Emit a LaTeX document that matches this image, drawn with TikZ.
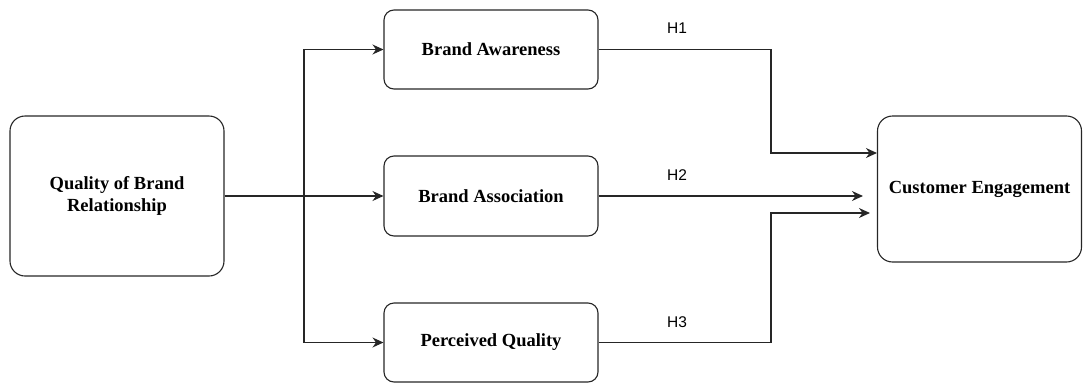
\documentclass[tikz,border=0pt]{standalone}
\usepackage{fontspec}
\setmainfont{Liberation Serif}
\newfontfamily\hfont{Liberation Sans}
\usetikzlibrary{arrows.meta}

\begin{document}
\begin{tikzpicture}[x=1pt,y=-1pt,
  box/.style={draw=black!85,line width=1.1pt,rounded corners=10pt,align=center,
    font=\fontsize{18.5}{22}\selectfont\bfseries,inner sep=0pt},
  arr/.style={draw=black!85,line width=1.1pt,-{Stealth[length=11pt,width=10pt]}},
  hyp/.style={font=\hfont\fontsize{15.5}{18}\selectfont}]
\useasboundingbox (0,0) rectangle (1083,383);

\node[box,minimum width=214pt,minimum height=160pt,rounded corners=15pt] (qbr) at (117,196) {Quality of Brand\\Relationship};

\node[box,minimum width=214pt,minimum height=79pt] (aware) at (491,49.5) {Brand Awareness};
\node[box,minimum width=214pt,minimum height=80pt] (assoc) at (491,196) {Brand Association};
\node[box,minimum width=214pt,minimum height=79pt] (perc) at (491,342.5) {Perceived Quality};

\node[box,minimum width=204pt,minimum height=146pt,rounded corners=15pt] (eng) at (979.5,189) {Customer Engagement};

\node[hyp] (h1) at (677,28) {H1};
\node[hyp] (h2) at (677,175) {H2};
\node[hyp] (h3) at (677,322) {H3};

\coordinate (split) at (304,196);
\coordinate (join1) at (771,153);
\coordinate (join3) at (771,213);

\draw[arr] (qbr.east) -- (assoc.west);
\draw[arr] (split) |- (aware.west);
\draw[arr] (split) |- (perc.west);

\draw[arr] (aware.east) -| (join1) -- (eng.west |- join1);
\draw[arr] (assoc.east) -- ([xshift=-14pt]eng.west |- assoc.east);
\draw[arr] (perc.east) -| (join3) -- ([xshift=-7pt]eng.west |- join3);
\end{tikzpicture}
\end{document}
